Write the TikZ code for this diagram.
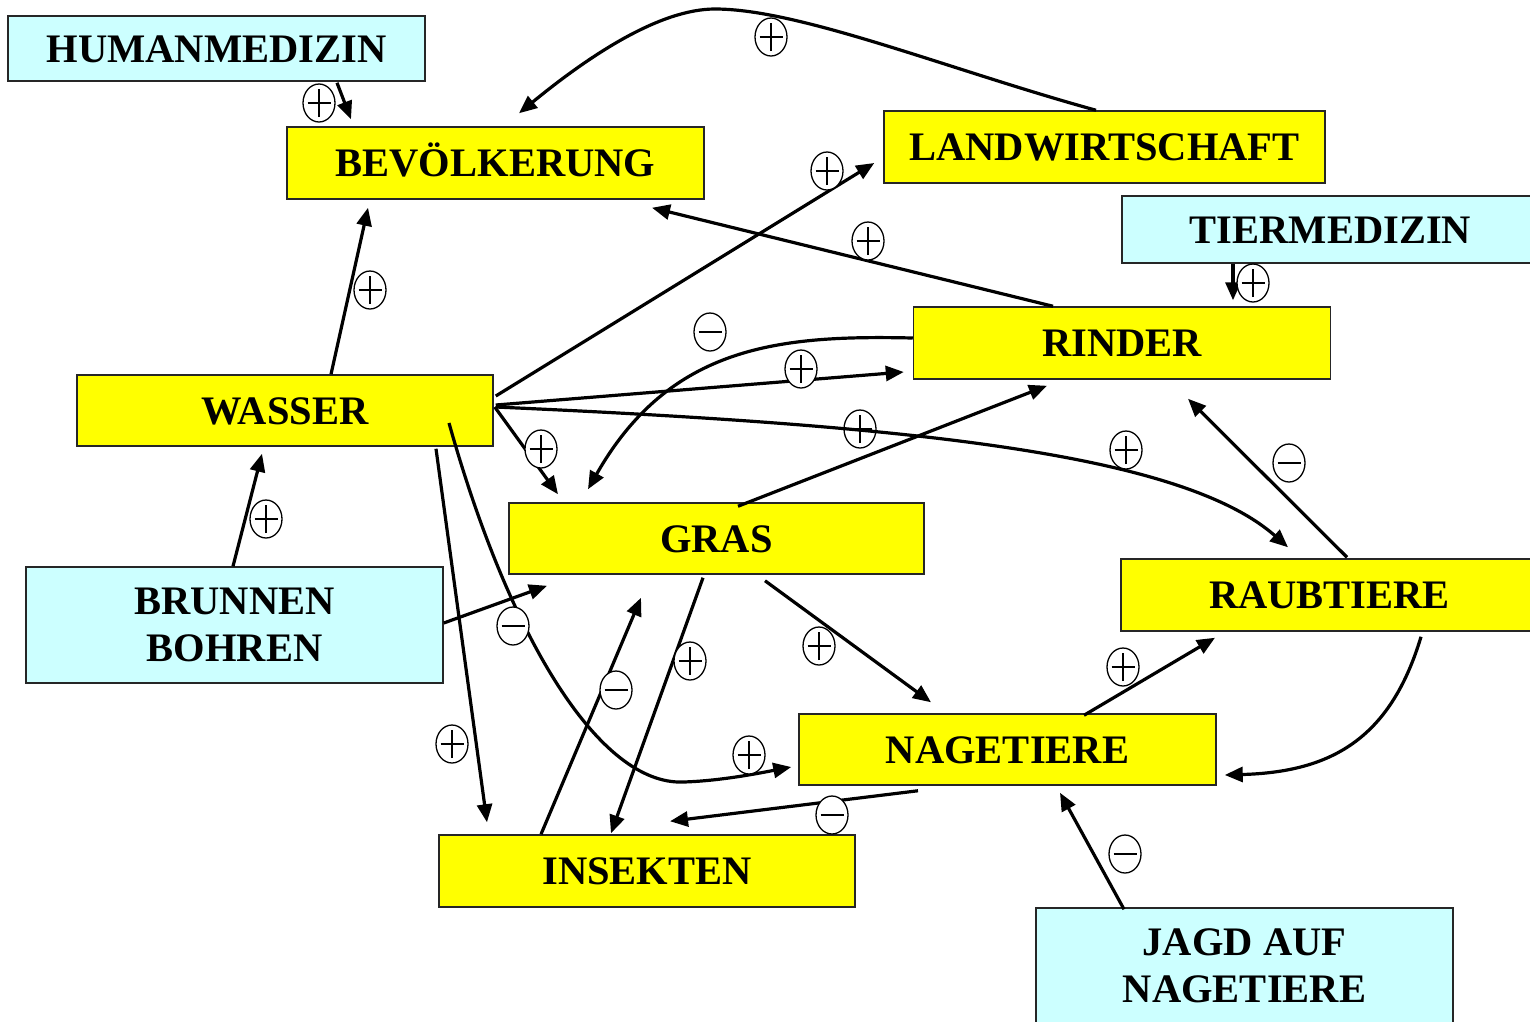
\documentclass[tikz,border=0pt]{standalone}
\usepackage{fontspec}
\setmainfont{Liberation Serif}
\usetikzlibrary{arrows.meta,shapes.geometric}
\definecolor{boxyellow}{RGB}{255,255,0}
\definecolor{boxcyan}{RGB}{204,255,255}
\begin{document}
\begin{tikzpicture}[x=1pt,y=-1pt,
  box/.style={draw=black!85, line width=1.5pt, inner sep=0pt, align=center,
    font=\bfseries\fontsize{40.5}{47}\selectfont},
  ybox/.style={box, fill=boxyellow, minimum width=417pt, minimum height=72pt},
  cbox/.style={box, fill=boxcyan, minimum width=417pt},
  oneline/.style={text height=27.5pt, text depth=0pt},
  link/.style={line width=3.2pt, -{Triangle[length=18pt,width=15pt]}},
  sgn/.style={ellipse, draw, line width=1.3pt, minimum width=32pt,
    minimum height=38pt, inner sep=0pt, fill=white},
  sgnminus/.style={sgn, path picture={
    \draw[line width=1.3pt] ([xshift=-11.5pt]path picture bounding box.center)
      -- ([xshift=11.5pt]path picture bounding box.center);}},
  sgnplus/.style={sgn, path picture={
    \draw[line width=1.3pt] ([xshift=-11.5pt]path picture bounding box.center)
      -- ([xshift=11.5pt]path picture bounding box.center)
      ([yshift=-14pt]path picture bounding box.center)
      -- ([yshift=14pt]path picture bounding box.center);}},
]
\clip (0,0) rectangle (1530,1021);
\fill[white] (0,0) rectangle (1530,1021);

% boxes
\node[cbox, oneline, minimum height=65pt] (hum) at (216.5,48.5) {HUMANMEDIZIN};
\node[ybox, oneline] (bev) at (495.5,163) {BEVÖLKERUNG};
\node[ybox, oneline, minimum width=441pt] (land) at (1104.5,147) {LANDWIRTSCHAFT};
\node[cbox, oneline, minimum height=67pt] (tier) at (1330.5,229.5) {TIERMEDIZIN};
\node[ybox, oneline] (rind) at (1122,343) {RINDER};
\node[ybox, oneline, minimum width=416pt, minimum height=71pt] (wass) at (285,410.5) {WASSER};
\node[ybox, oneline, minimum width=415pt, minimum height=71pt] (gras) at (716.5,538.5) {GRAS};
\node[ybox, oneline] (raub) at (1329.5,595) {RAUBTIERE};
\node[cbox, minimum height=116pt] (brun) at (234.5,625) {BRUNNEN\\BOHREN};
\node[ybox, oneline, minimum height=71pt] (nage) at (1007.5,749.5) {NAGETIERE};
\node[ybox, oneline, minimum width=416pt] (ins) at (647,871) {INSEKTEN};
\node[cbox, minimum height=116pt] (jagd) at (1244.5,966) {JAGD AUF\\NAGETIERE};

% connectors
\draw[link] ([shift={(120.5,1)}]hum.south) -- ([shift={(-144.5,-7)}]bev.north);
\draw[link] ([shift={(-8.5,0)}]land.north)
  .. controls (950,70) and (800,9) .. (715,9)
  .. controls (660,9) and (590,55) .. ([shift={(23.5,-13)}]bev.north);
\draw[link] ([shift={(2,-14.5)}]wass.east) -- ([shift={(-9,16)}]land.west);
\draw[link] ([shift={(-69,0)}]rind.north) -- ([shift={(156.5,8)}]bev.south);
\draw[link] ([shift={(-97.5,0)}]tier.south) -- ([shift={(111,-6)}]rind.north);
\draw[link] ([shift={(0,-5)}]rind.west)
  .. controls (780,335) and (670,345) .. ([shift={(-128.5,-13)}]gras.north);
\draw[link] ([shift={(2,-5.5)}]wass.east) -- ([shift={(-9,29)}]rind.west);
\draw[link] ([shift={(2,-3.5)}]wass.east)
  .. controls (900,425) and (1180,452) .. ([shift={(-41.5,-11)}]raub.north);
\draw[link] ([shift={(1,-3.5)}]wass.east) -- ([shift={(-158.5,-8)}]gras.north);
\draw[link] ([shift={(21.5,4)}]gras.north) -- ([shift={(-75,6)}]rind.south);
\draw[link] ([shift={(46,0)}]wass.north) -- ([shift={(-127.5,8)}]bev.south);
\draw[link] ([shift={(-1.5,0)}]brun.north) -- ([shift={(-23,7)}]wass.south);
\draw[link] ([shift={(0,-2)}]brun.east) -- ([shift={(-169.5,11)}]gras.south);
\draw[link] ([shift={(151,2)}]wass.south) -- ([shift={(-160,-12)}]ins.north);
\draw[link] ([shift={(164,12.5)}]wass.center)
  .. controls (510,640) and (600,785) .. (683,782)
  .. controls (720,781) and (760,773) .. ([shift={(-7,17.5)}]nage.west);
\draw[link] ([shift={(-13.5,3)}]gras.south) -- ([shift={(-36,-1)}]ins.north);
\draw[link] ([shift={(-106,0)}]ins.north) -- ([shift={(-75.5,23)}]gras.south);
\draw[link] ([shift={(48.5,6)}]gras.south) -- ([shift={(-76.5,-11)}]nage.north);
\draw[link] ([shift={(-89.5,5)}]nage.south) -- ([shift={(23,-13)}]ins.north);
\draw[link] ([shift={(76.5,2)}]nage.north) -- ([shift={(-114.5,6)}]raub.south);
\draw[link] ([shift={(17.5,-1)}]raub.north) -- ([shift={(66,19)}]rind.south);
\draw[link] ([shift={(91.5,5)}]raub.south)
  .. controls (1390,740) and (1330,772) .. ([shift={(8,25.5)}]nage.east);
\draw[link] ([shift={(-120.5,2)}]jagd.north) -- ([shift={(52.5,7)}]nage.south);

% polarity marks
\node[sgnplus] (s1) at (319,103) {};
\node[sgnplus] (s2) at (771,37) {};
\node[sgnplus] (s3) at (827,171) {};
\node[sgnplus] (s4) at (868,241) {};
\node[sgnplus] (s5) at (1253,283) {};
\node[sgnminus] (s6) at (710,332) {};
\node[sgnplus] (s7) at (801,369) {};
\node[sgnplus, fill=none] (s8) at (860,429) {};
\node[sgnplus] (s9) at (1126,450) {};
\node[sgnplus] (s10) at (541,449) {};
\node[sgnminus] (s11) at (1289,463) {};
\node[sgnplus] (s12) at (370,290) {};
\node[sgnplus] (s13) at (266,519) {};
\node[sgnminus] (s14) at (513,626) {};
\node[sgnplus] (s15) at (690,661) {};
\node[sgnminus] (s16) at (616,690) {};
\node[sgnplus] (s17) at (819,646) {};
\node[sgnplus] (s18) at (452,744) {};
\node[sgnplus] (s19) at (749,755) {};
\node[sgnminus] (s20) at (832,815) {};
\node[sgnplus] (s21) at (1123,667) {};
\node[sgnminus] (s22) at (1125,854) {};
\end{tikzpicture}
\end{document}
